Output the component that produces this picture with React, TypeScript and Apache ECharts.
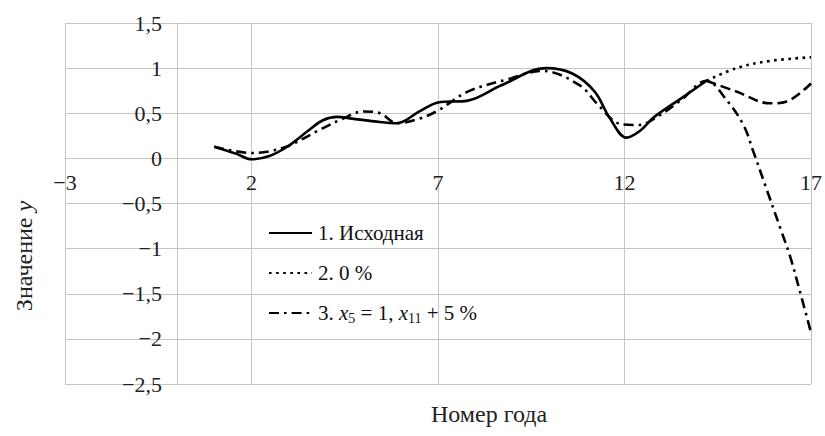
import React, { useEffect, useRef } from "react";
import * as echarts from "echarts";

const xTicks = [-3, 2, 7, 12, 17];
const legendNames = ["1. Исходная", "2. 0 %", "3. x5 = 1, x11 + 5 %"];

const s1X = [1.0, 1.6, 2.0, 2.5, 3.0, 3.5, 3.9, 4.3, 4.7, 5.3, 5.9, 6.5, 7.0, 7.8, 8.7, 9.9, 10.6, 11.2, 11.6, 12.05, 12.4, 12.8, 13.5, 14.2];
const s1Y = [0.13, 0.05, -0.01, 0.03, 0.14, 0.3, 0.42, 0.46, 0.44, 0.41, 0.39, 0.52, 0.62, 0.64, 0.81, 1.0, 0.94, 0.74, 0.45, 0.23, 0.3, 0.46, 0.66, 0.86];

const s2X = [14.2, 15.0, 15.9, 17.0];
const s2Y = [0.86, 1.0, 1.08, 1.12];

const s3X = [1.0, 2.0, 2.5, 3.0, 3.8, 4.4, 5.0, 5.45, 5.9, 6.5, 7.0, 7.8, 8.9, 9.8, 10.8, 11.3, 11.9, 12.4, 12.8, 13.5, 14.2, 14.75, 15.2, 15.45, 15.8, 16.2, 16.45, 16.7, 17.0];
const s3Y = [0.13, 0.06, 0.08, 0.14, 0.31, 0.43, 0.52, 0.5, 0.39, 0.44, 0.53, 0.74, 0.88, 0.97, 0.81, 0.59, 0.38, 0.37, 0.44, 0.64, 0.86, 0.64, 0.36, 0.08, -0.33, -0.8, -1.1, -1.47, -1.93];

const s4X = [14.2, 15.0, 15.9, 16.35, 17.0];
const s4Y = [0.86, 0.74, 0.61, 0.63, 0.83];

const pairs = (xs: number[], ys: number[]) => xs.map((x, i) => [x, ys[i]]);
const fmt = (v: number) => String(v).replace("-", "−").replace(".", ",");

const FONT = "Liberation Serif";
const GRID = "#c4c4c4";

export default function App() {
  const ref = useRef<HTMLDivElement>(null);
  useEffect(() => {
    if (!ref.current) return;
    const chart = echarts.init(ref.current, undefined, { renderer: "svg" });
    chart.setOption({
      animation: false,
      backgroundColor: "#ffffff",
      textStyle: { fontFamily: FONT },
      grid: { left: 65, right: 14, top: 23, bottom: 52 },
      xAxis: {
        type: "value",
        min: xTicks[0],
        max: xTicks[xTicks.length - 1],
        interval: 5,
        axisLine: { show: true, onZero: true, lineStyle: { color: GRID, width: 1 } },
        axisTick: { show: false },
        splitLine: { show: true, lineStyle: { color: GRID, width: 1 } },
        axisLabel: { fontFamily: FONT, fontSize: 22, color: "#222", margin: -213, formatter: fmt },
      },
      yAxis: {
        type: "value",
        min: -2.5,
        max: 1.5,
        interval: 0.5,
        axisLine: { show: true, onZero: true, lineStyle: { color: GRID, width: 1 } },
        axisTick: { show: false },
        splitLine: { show: true, lineStyle: { color: GRID, width: 1 } },
        axisLabel: { fontFamily: FONT, fontSize: 22, color: "#222", margin: -97, formatter: fmt },
      },
      legend: {
        orient: "vertical",
        left: 263,
        top: 217,
        itemWidth: 43,
        itemHeight: 14,
        itemGap: 18,
        data: legendNames,
        itemStyle: { opacity: 0 },
        textStyle: {
          fontFamily: FONT,
          fontSize: 21,
          color: "#111",
          lineHeight: 22,
          padding: [0, 0, 0, 1],
          rich: {
            i: { fontFamily: FONT, fontSize: 21, fontStyle: "italic", color: "#111" },
            s: { fontFamily: FONT, fontSize: 14, color: "#111", padding: [10, 0, 0, 0] },
          },
        },
        formatter: (name: string) =>
          name === legendNames[2] ? "3. {i|x}{s|5} = 1, {i|x}{s|11} + 5 %" : name,
      },
      graphic: [
        {
          type: "text",
          x: 489,
          y: 414,
          style: { text: "Номер года", fontFamily: FONT, fontSize: 24, fill: "#222", align: "center", verticalAlign: "middle" },
        },
        {
          type: "text",
          x: 24,
          y: 256,
          rotation: Math.PI / 2,
          style: {
            text: "Значение {i|y}",
            fontFamily: FONT,
            fontSize: 24,
            fill: "#222",
            align: "center",
            verticalAlign: "middle",
            rich: { i: { fontFamily: FONT, fontSize: 24, fontStyle: "italic", fill: "#222" } },
          },
        },
      ],
      series: [
        {
          name: legendNames[0],
          type: "line",
          smooth: 0.35,
          symbol: "none",
          data: pairs(s1X, s1Y),
          lineStyle: { color: "#000", width: 2.6, type: "solid" },
          itemStyle: { color: "#000" },
        },
        {
          name: legendNames[1],
          type: "line",
          smooth: 0.35,
          symbol: "none",
          data: pairs(s2X, s2Y),
          lineStyle: { color: "#000", width: 2.6, type: [2.6, 4.5] },
          itemStyle: { color: "#000" },
        },
        {
          name: legendNames[2],
          type: "line",
          smooth: 0.35,
          symbol: "none",
          data: pairs(s3X, s3Y),
          lineStyle: { color: "#000", width: 2.6, type: [10, 5, 2.6, 5] },
          itemStyle: { color: "#000" },
        },
        {
          name: "tail",
          type: "line",
          smooth: 0.35,
          symbol: "none",
          data: pairs(s4X, s4Y),
          lineStyle: { color: "#000", width: 2.6, type: [10, 5] },
          itemStyle: { color: "#000" },
        },
      ],
    });
    return () => chart.dispose();
  }, []);
  return <div ref={ref} style={{ width: 825, height: 436, position: "absolute", left: 0, top: 0 }} />;
}
